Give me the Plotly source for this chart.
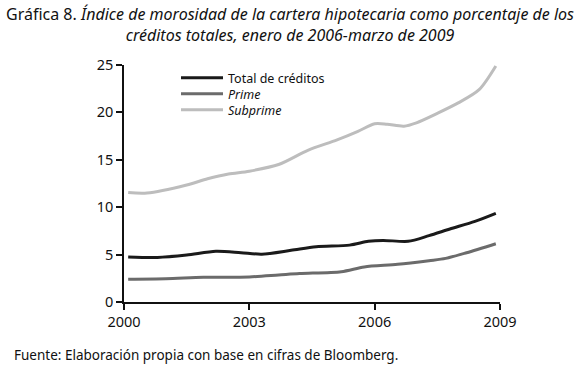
import plotly.graph_objects as go

years_total = [2000.1, 2000.8, 2001.5, 2002.2, 2002.8, 2003.3, 2004.0, 2004.6, 2005.4, 2005.85, 2006.2, 2006.8, 2007.3, 2007.8, 2008.4, 2008.9]
total = [4.75, 4.7, 4.95, 5.35, 5.2, 5.05, 5.45, 5.83, 6.0, 6.4, 6.5, 6.4, 7.0, 7.7, 8.5, 9.35]

years_prime = [2000.1, 2001.0, 2001.9, 2003.0, 2003.7, 2004.2, 2005.2, 2005.75, 2006.55, 2007.3, 2007.7, 2008.2, 2008.9]
prime = [2.4, 2.45, 2.6, 2.65, 2.85, 3.0, 3.2, 3.7, 3.97, 4.36, 4.6, 5.2, 6.15]

years_sub = [2000.1, 2000.55, 2001.5, 2002.0, 2002.5, 2003.0, 2003.7, 2004.4, 2005.1, 2005.6, 2006.0, 2006.3, 2006.7, 2007.0, 2007.5, 2008.0, 2008.5, 2008.9]
subprime = [11.55, 11.5, 12.35, 13.0, 13.5, 13.8, 14.5, 16.0, 17.1, 18.0, 18.8, 18.75, 18.55, 18.9, 19.9, 21.0, 22.4, 24.9]

names = ["Total de créditos", "<i>Prime</i>", "<i>Subprime</i>"]
colors = ["#1a1a1a", "#6b6b6b", "#bdbdbd"]
x_ticks = [2000, 2003, 2006, 2009]
y_ticks = [0, 5, 10, 15, 20, 25]

title_text = ("Gráfica 8. <i>Índice de morosidad de la cartera hipotecaria como porcentaje de los</i><br>"
              "<i>créditos totales, enero de 2006-marzo de 2009</i>")
source_text = "Fuente: Elaboración propia con base en cifras de Bloomberg."

# plot area in pixels
L, R, T, B = 124, 80, 65, 65
W, H = 580, 367
pw, ph = W - L - R, H - T - B


def px_x(x):
    return (x - L) / pw


def px_y(y):
    return (H - B - y) / ph


font = "Noto Sans"
fig = go.Figure()
legend_ids = ["legend", "legend2", "legend3"]
legend_rows = [78, 94, 110]
for xs, ys, n, c, lid in [(years_total, total, names[0], colors[0], legend_ids[0]),
                          (years_prime, prime, names[1], colors[1], legend_ids[1]),
                          (years_sub, subprime, names[2], colors[2], legend_ids[2])]:
    fig.add_trace(go.Scatter(x=xs, y=ys, name=n, mode="lines", legend=lid,
                             line=dict(color=c, width=3, shape="spline", smoothing=0.8)))

legend_common = dict(x=px_x(176), xanchor="left", yanchor="middle", itemwidth=42,
                     bgcolor="rgba(0,0,0,0)", font=dict(size=12.5, family=font, color="#111"))

fig.update_layout(
    width=W, height=H,
    margin=dict(l=L, r=R, t=T, b=B),
    paper_bgcolor="white", plot_bgcolor="white",
    font=dict(family=font, color="#111", size=14),
    showlegend=True,
    legend=dict(y=px_y(legend_rows[0]), **legend_common),
    legend2=dict(y=px_y(legend_rows[1]), **legend_common),
    legend3=dict(y=px_y(legend_rows[2]), **legend_common),
    xaxis=dict(range=[2000, 2009], tickvals=x_ticks, ticktext=[str(v) for v in x_ticks],
               showgrid=False, zeroline=False, showline=True, linecolor="#111", linewidth=1.5,
               ticks="outside", ticklen=6, tickwidth=1.5, tickcolor="#111",
               tickfont=dict(size=14.5)),
    yaxis=dict(range=[0, 25], tickvals=y_ticks,
               showgrid=False, zeroline=False, showline=True, linecolor="#111", linewidth=1.5,
               ticks="outside", ticklen=6, tickwidth=1.5, tickcolor="#111",
               tickfont=dict(size=14.5)),
    annotations=[
        dict(text=title_text, x=px_x(290), y=px_y(1), xref="paper", yref="paper",
             xanchor="center", yanchor="top", showarrow=False, align="center",
             font=dict(size=16, family=font, color="#111")),
        dict(text=source_text, x=px_x(12), y=px_y(355), xref="paper", yref="paper",
             xanchor="left", yanchor="middle", showarrow=False,
             font=dict(size=13.5, family=font, color="#111")),
    ],
)

fig.write_html("out.html", config={"displayModeBar": False},
               post_script="document.body.style.margin='0';")
